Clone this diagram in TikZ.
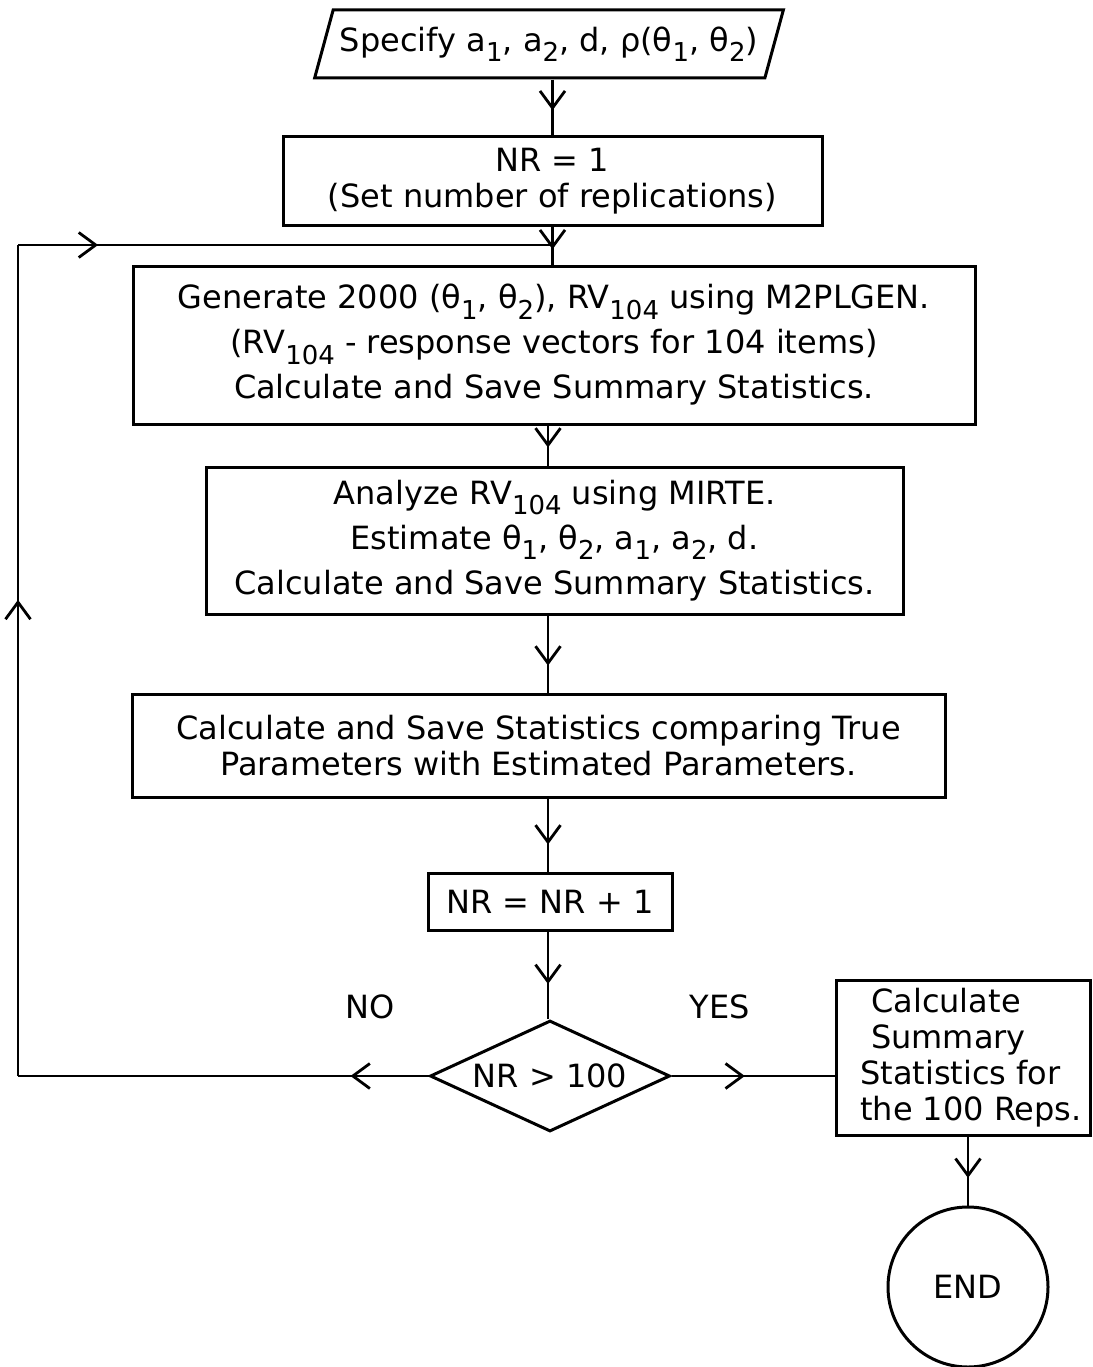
\documentclass[tikz,border=0pt]{standalone}
\usepackage{fontspec}
\setmainfont{DejaVu Sans}
\usetikzlibrary{shapes.geometric,arrows.meta,decorations.markings}
\newcommand\sbs[1]{\raisebox{-0.32em}{\fontsize{26}{26}\selectfont #1}}
\tikzset{
  box/.style={draw, rectangle, align=center, inner sep=4pt},
  midarrow/.style={postaction={decorate},
    decoration={markings, mark=at position #1 with {\arrow{Straight Barb[length=17pt,width=25pt]}}}},
  midarrow/.default=0.5,
  conn/.style={line width=2.8pt}
}
\begin{document}
\begin{tikzpicture}[x=1pt,y=-1pt,line width=3pt,font=\fontsize{32}{36}\selectfont]
\useasboundingbox (0,0) rectangle (1092,1367);
% nodes
\node[draw, trapezium, trapezium left angle=65, trapezium right angle=115,
      trapezium stretches=true, minimum width=472pt, minimum height=68pt, inner sep=2pt] (spec) at (549,44)
  {Specify a\sbs{1}, a\sbs{2}, d, ρ(θ\sbs{1}, θ\sbs{2})};
\node[box, minimum width=539pt, minimum height=88pt] (b1) at (552.5,181)
  {NR = 1\\(Set number of replications)};
\node[box, minimum width=842pt, minimum height=158pt] (b2) at (554,345)
  {Generate 2000 (θ\sbs{1}, θ\sbs{2}), RV\sbs{104} using M2PLGEN.\\[9pt]
   (RV\sbs{104} - response vectors for 104 items)\\[9pt]
   Calculate and Save Summary Statistics.};
\node[box, minimum width=697pt, minimum height=147pt] (b3) at (554.5,540.5)
  {Analyze RV\sbs{104} using MIRTE.\\[9pt]
   Estimate θ\sbs{1}, θ\sbs{2}, a\sbs{1}, a\sbs{2}, d.\\[9pt]
   Calculate and Save Summary Statistics.};
\node[box, minimum width=813pt, minimum height=103pt] (b4) at (538.5,745.5)
  {Calculate and Save Statistics comparing True\\Parameters with Estimated Parameters.};
\node[box, minimum width=244pt, minimum height=57pt] (b5) at (550,901.5)
  {NR = NR + 1};
\node[draw, diamond, aspect=2.16, minimum width=240pt, minimum height=111pt, inner sep=0pt] (dec) at (550,1076)
  {NR > 100};
\node[box, align=left, minimum width=254pt, minimum height=155pt, inner sep=2pt] (b6) at (963,1057.5)
  {\hspace*{27pt}Calculate\\\hspace*{27pt}Summary\\\hspace*{16pt}Statistics for\\\hspace*{16pt}the 100 Reps.};
\node[draw, circle, minimum size=160pt, inner sep=0pt] (end) at (968,1287) {END};
\node (no) at (370,1007) {NO};
\node (yes) at (720,1007) {YES};
% coordinates
\coordinate (ax) at (548,0);
\coordinate (lb) at (18,1076);
\coordinate (lt) at (18,245);
\coordinate (jn) at (552,245);
% connectors
\draw[conn, midarrow=0.55] (spec.south -| b1.north) -- (b1.north);
\draw[conn, midarrow=0.6] (b1.south) -- (b1.south |- b2.north);
\draw[conn, midarrow=0.55] (b2.south -| ax) -- (b3.north -| ax);
\draw[conn, midarrow=0.65] (b3.south -| ax) -- (b4.north -| ax);
\draw[conn, midarrow=0.63] (b4.south -| ax) -- (b5.north -| ax);
\draw[conn, midarrow=0.6] (b5.south -| ax) -- (dec.north -| ax);
\draw[conn, midarrow=0.45] (dec.east) -- (dec.east -| b6.west);
\draw[conn, midarrow=0.6] (b6.south -| end.north) -- (end.north);
\draw[conn, midarrow=0.19] (dec.west) -- (lb);
\draw[conn, midarrow=0.573] (lb) -- (lt);
\draw[conn, midarrow=0.15] (lt) -- (jn);
\end{tikzpicture}
\end{document}
